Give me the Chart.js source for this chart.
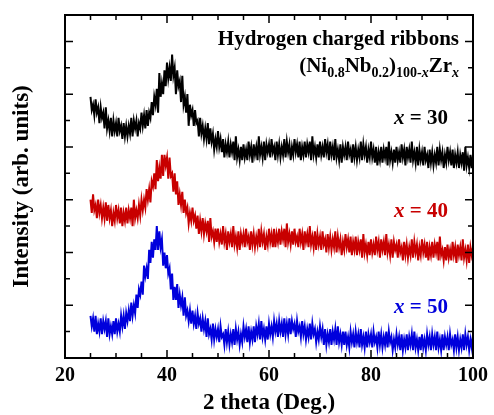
<!DOCTYPE html>
<html>
<head>
<meta charset="utf-8">
<script src="https://cdn.jsdelivr.net/npm/chart.js@4"></script>
<style>
  html, body { margin: 0; padding: 0; background: #fff; }
  #xrd { display: block; }
</style>
</head>
<body>
<canvas id="xrd" width="494" height="415"></canvas>
<script>
// 2theta sampling (deg), every 0.25 deg
const twoTheta = [
  25,25.25,25.5,25.75,26,26.25,26.5,26.75,27,27.25,27.5,27.75,28,28.25,28.5,28.75,29,29.25,29.5,29.75,
  30,30.25,30.5,30.75,31,31.25,31.5,31.75,32,32.25,32.5,32.75,33,33.25,33.5,33.75,34,34.25,34.5,34.75,
  35,35.25,35.5,35.75,36,36.25,36.5,36.75,37,37.25,37.5,37.75,38,38.25,38.5,38.75,39,39.25,39.5,39.75,
  40,40.25,40.5,40.75,41,41.25,41.5,41.75,42,42.25,42.5,42.75,43,43.25,43.5,43.75,44,44.25,44.5,44.75,
  45,45.25,45.5,45.75,46,46.25,46.5,46.75,47,47.25,47.5,47.75,48,48.25,48.5,48.75,49,49.25,49.5,49.75,
  50,50.25,50.5,50.75,51,51.25,51.5,51.75,52,52.25,52.5,52.75,53,53.25,53.5,53.75,54,54.25,54.5,54.75,
  55,55.25,55.5,55.75,56,56.25,56.5,56.75,57,57.25,57.5,57.75,58,58.25,58.5,58.75,59,59.25,59.5,59.75,
  60,60.25,60.5,60.75,61,61.25,61.5,61.75,62,62.25,62.5,62.75,63,63.25,63.5,63.75,64,64.25,64.5,64.75,
  65,65.25,65.5,65.75,66,66.25,66.5,66.75,67,67.25,67.5,67.75,68,68.25,68.5,68.75,69,69.25,69.5,69.75,
  70,70.25,70.5,70.75,71,71.25,71.5,71.75,72,72.25,72.5,72.75,73,73.25,73.5,73.75,74,74.25,74.5,74.75,
  75,75.25,75.5,75.75,76,76.25,76.5,76.75,77,77.25,77.5,77.75,78,78.25,78.5,78.75,79,79.25,79.5,79.75,
  80,80.25,80.5,80.75,81,81.25,81.5,81.75,82,82.25,82.5,82.75,83,83.25,83.5,83.75,84,84.25,84.5,84.75,
  85,85.25,85.5,85.75,86,86.25,86.5,86.75,87,87.25,87.5,87.75,88,88.25,88.5,88.75,89,89.25,89.5,89.75,
  90,90.25,90.5,90.75,91,91.25,91.5,91.75,92,92.25,92.5,92.75,93,93.25,93.5,93.75,94,94.25,94.5,94.75,
  95,95.25,95.5,95.75,96,96.25,96.5,96.75,97,97.25,97.5,97.75,98,98.25,98.5,98.75,99,99.25,99.5,99.75,
  100
];

// intensity (arb. units, curves stacked), read as the noisy band of each pattern
const zr30 = [
  99,94,96,92,98,93,95,89,95,91,93,87,95,87,90,86,91,84,90,86,
  89,84,91,86,88,83,89,84,88,84,88,85,91,84,90,87,90,84,89,87,
  93,88,92,87,94,88,93,91,97,92,99,96,102,93,108,99,104,100,109,103,
  112,106,110,105,115,107,110,100,109,103,105,97,107,96,99,93,100,88,96,92,
  94,88,94,89,90,84,91,85,88,83,87,83,89,81,87,82,85,79,83,80,
  86,80,83,78,83,76,81,78,82,76,81,78,82,75,84,76,79,75,80,75,
  81,76,79,75,82,77,80,74,81,77,80,75,84,77,80,76,82,75,81,78,
  81,76,83,78,80,75,82,77,81,76,80,77,83,76,82,78,81,75,80,77,
  83,78,81,76,82,75,80,77,82,76,81,78,82,75,84,77,80,76,81,76,
  82,77,80,76,83,78,81,75,82,77,80,75,83,76,79,75,81,74,80,77,
  80,75,82,77,79,74,81,76,80,75,79,76,82,75,81,77,80,74,79,76,
  82,76,79,74,80,73,78,75,80,74,79,76,80,73,82,75,78,74,79,74,
  80,75,78,74,81,76,79,73,80,76,79,74,82,75,78,74,80,73,79,75,
  78,73,80,75,77,72,79,74,78,73,77,74,80,73,79,75,78,72,77,74,
  80,75,78,73,79,72,77,74,78,72,77,74,78,71,80,73,76,72,77,72,
  77
];
const zr40 = [
  60,55,62,56,58,53,60,55,58,53,57,53,59,52,58,53,56,50,55,52,
  58,53,56,51,57,50,55,52,57,51,56,53,57,50,60,53,56,53,58,54,
  60,56,60,57,64,60,64,59,67,65,70,64,75,67,72,68,77,69,77,73,
  76,68,76,69,70,63,70,62,67,58,62,58,63,55,60,55,57,51,55,52,
  57,52,54,49,54,47,52,48,53,47,51,48,52,44,53,46,48,44,49,44,
  49,44,47,43,50,44,47,41,48,44,47,42,50,43,46,42,48,41,47,44,
  47,42,49,44,46,41,48,43,47,42,46,43,49,42,48,44,47,41,46,43,
  49,44,47,42,49,42,47,44,49,43,48,45,49,42,51,44,47,43,48,43,
  49,44,46,42,49,44,47,41,48,44,47,42,50,43,46,42,48,41,47,43,
  46,41,48,43,45,40,47,42,46,41,45,42,48,40,46,42,45,39,44,41,
  47,42,45,40,46,39,44,41,46,39,44,41,45,38,47,40,43,39,44,39,
  45,40,43,39,46,41,44,38,45,41,44,39,47,40,43,39,45,38,44,41,
  43,38,45,40,42,37,44,39,43,38,42,39,45,38,44,40,43,37,42,39,
  45,40,43,38,44,37,42,39,44,38,43,40,44,37,46,39,41,37,42,37,
  43,38,41,37,44,39,42,36,43,39,42,37,45,38,41,37,43,36,42,39,
  42
];
const zr50 = [
  16,12,15,10,16,9,13,10,15,9,14,11,14,8,15,9,12,9,14,9,
  15,10,13,10,16,12,16,11,17,14,18,14,21,16,20,17,24,19,26,24,
  29,24,35,31,34,30,41,36,44,38,45,41,50,41,48,42,45,35,40,34,
  39,32,34,26,32,22,27,22,28,19,24,20,23,16,23,16,18,14,18,13,
  18,13,16,11,17,13,15,10,15,11,14,8,15,9,11,7,13,7,11,8,
  11,6,12,8,9,5,11,6,10,5,9,6,11,5,11,7,10,5,9,6,
  12,8,11,6,12,6,10,7,12,6,12,9,13,7,14,8,11,7,12,7,
  13,9,12,8,14,10,13,8,14,10,13,8,15,9,13,9,15,9,14,11,
  13,8,14,10,12,8,14,9,12,7,11,8,13,7,13,9,11,6,10,7,
  12,8,11,5,11,5,9,6,11,5,10,7,11,5,12,6,9,5,10,5,
  10,5,8,4,10,6,9,4,10,6,9,4,11,5,8,4,10,4,9,6,
  9,4,10,6,8,4,10,5,9,4,8,5,10,4,10,6,8,3,7,4,
  9,5,8,3,9,3,7,4,9,3,8,5,9,3,10,4,7,3,8,3,
  9,4,7,3,9,5,8,3,9,5,8,3,10,4,7,3,9,3,8,5,
  8,3,9,5,7,3,9,4,8,3,7,4,9,3,9,5,8,3,7,4,
  9
];

const seriesNames = ['30', '40', '50'];
const seriesColors = ['#000000', '#c80000', '#0000dc'];

const serif = "'Liberation Serif', 'Times New Roman', serif";

function toPoints(values) {
  return twoTheta.map((t, i) => ({ x: t, y: values[i] }));
}

// frame, inward ticks on all four sides and the text labels
const frameAndLabels = {
  id: 'frameAndLabels',
  afterDraw(chart) {
    const { ctx, chartArea: a, scales: { x, y } } = chart;
    ctx.save();
    ctx.strokeStyle = '#000';
    ctx.lineWidth = 1.5;
    ctx.beginPath();
    x.ticks.forEach(t => {
      const px = x.getPixelForValue(t.value);
      const len = t.value % 20 === 0 ? 8 : 5;
      ctx.moveTo(px, a.bottom); ctx.lineTo(px, a.bottom - len);
      ctx.moveTo(px, a.top); ctx.lineTo(px, a.top + len);
    });
    y.ticks.forEach(t => {
      if (t.value <= 0 || t.value >= 130) return;
      const py = y.getPixelForValue(t.value);
      const len = t.value % 20 === 0 ? 8 : 5;
      ctx.moveTo(a.left, py); ctx.lineTo(a.left + len, py);
      ctx.moveTo(a.right, py); ctx.lineTo(a.right - len, py);
    });
    ctx.stroke();
    ctx.lineWidth = 2;
    ctx.strokeRect(a.left, a.top, a.right - a.left, a.bottom - a.top);

    ctx.textBaseline = 'alphabetic';
    ctx.fillStyle = '#000';
    ctx.textAlign = 'right';
    ctx.font = 'bold 21px ' + serif;
    ctx.fillText('Hydrogen charged ribbons', a.right - 14, a.top + 30);

    // (Ni0.8Nb0.2)100-xZrx with subscripts
    const big = 'bold 21px ' + serif;
    const sub = 'bold 14px ' + serif;
    const subIt = 'italic bold 14px ' + serif;
    const parts = [
      ['(Ni', big, 0], ['0.8', sub, 5], ['Nb', big, 0], ['0.2', sub, 5],
      [')', big, 0], ['100-', sub, 5], ['x', subIt, 5], ['Zr', big, 0], ['x', subIt, 5]
    ];
    let total = 0;
    parts.forEach(p => { ctx.font = p[1]; total += ctx.measureText(p[0]).width; });
    let cx = a.right - 14 - total;
    const base = a.top + 57;
    ctx.textAlign = 'left';
    parts.forEach(p => {
      ctx.font = p[1];
      ctx.fillText(p[0], cx, base + p[2]);
      cx += ctx.measureText(p[0]).width;
    });

    // x = .. labels next to each pattern
    const labelBase = [a.top + 109, a.top + 202, a.top + 298];
    seriesNames.forEach((n, i) => {
      ctx.fillStyle = seriesColors[i];
      ctx.font = 'bold 21px ' + serif;
      const rest = ' = ' + n;
      const wRest = ctx.measureText(rest).width;
      const right = a.right - 25;
      ctx.textAlign = 'right';
      ctx.fillText(rest, right, labelBase[i]);
      ctx.font = 'italic bold 21px ' + serif;
      ctx.fillText('x', right - wRest, labelBase[i]);
    });
    ctx.restore();
  }
};

new Chart(document.getElementById('xrd'), {
  type: 'line',
  data: {
    datasets: [
      { data: toPoints(zr50), borderColor: seriesColors[2] },
      { data: toPoints(zr40), borderColor: seriesColors[1] },
      { data: toPoints(zr30), borderColor: seriesColors[0] }
    ].map(d => Object.assign(d, { borderWidth: 2, pointRadius: 0, tension: 0, fill: false }))
  },
  options: {
    responsive: false,
    animation: false,
    devicePixelRatio: 1,
    layout: { padding: { top: 15, right: 17, left: 0, bottom: 0 } },
    plugins: { legend: { display: false }, tooltip: { enabled: false } },
    scales: {
      x: {
        type: 'linear', min: 20, max: 100,
        afterFit: s => { s.height = 57; },
        grid: { display: false, drawTicks: false },
        border: { display: false },
        ticks: {
          stepSize: 5, autoSkip: false, maxRotation: 0, padding: 6, color: '#000',
          font: { family: serif, size: 20, weight: 'bold' },
          callback: v => (v % 20 === 0 ? v : '')
        },
        title: {
          display: true, text: '2 theta (Deg.)', color: '#000', padding: 0,
          font: { family: serif, size: 23, weight: 'bold', lineHeight: 1 }
        }
      },
      y: {
        min: 0, max: 130,
        afterFit: s => { s.width = 65; },
        grid: { display: false },
        border: { display: false },
        ticks: { display: false, stepSize: 10 },
        title: {
          display: true, text: 'Intensity (arb. units)', color: '#000',
          padding: { top: 11, bottom: 0 },
          font: { family: serif, size: 23, weight: 'bold', lineHeight: 1 }
        }
      }
    }
  },
  plugins: [frameAndLabels]
});
</script>
</body>
</html>
